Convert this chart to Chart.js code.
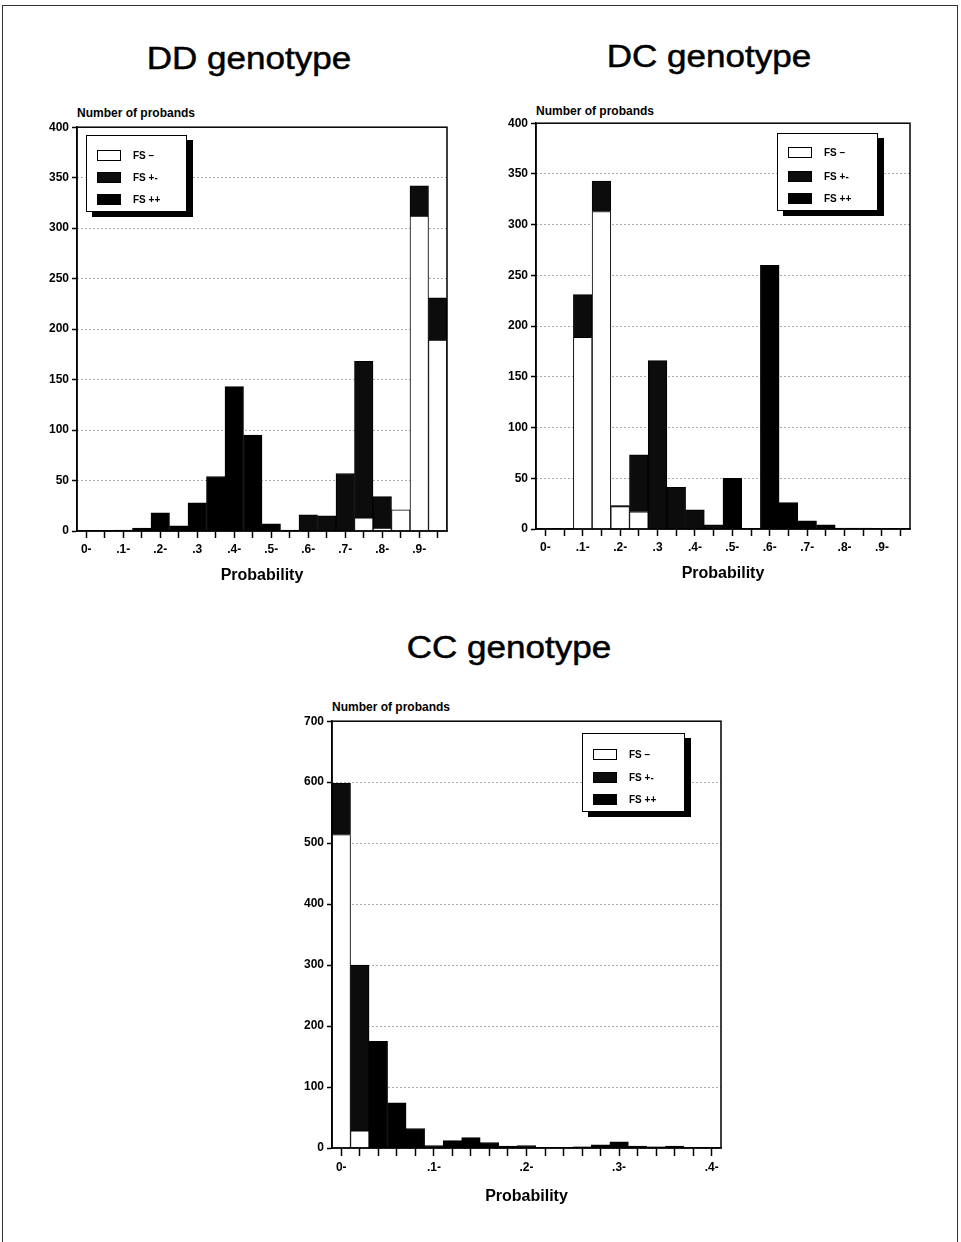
<!DOCTYPE html>
<html><head><meta charset="utf-8">
<script src="https://cdn.jsdelivr.net/npm/chart.js@4.4.1/dist/chart.umd.min.js"></script>
<style>
body{margin:0;background:#fff;width:961px;height:1242px;position:relative;overflow:hidden;font-family:"Liberation Sans",Arial,Helvetica,sans-serif;color:#000;}
.frame{position:absolute;left:2px;top:5px;width:956px;height:1240px;border:1px solid #333;box-sizing:border-box;}
.title{position:absolute;width:400px;text-align:center;font-size:31px;line-height:31px;transform:scaleX(1.13);transform-origin:center;white-space:nowrap;-webkit-text-stroke:0.5px #000;}
.ylab{position:absolute;font-size:12px;line-height:12px;font-weight:bold;white-space:nowrap;}
canvas{position:absolute;}
.legend{position:absolute;border:1px solid #000;background:#fff;box-shadow:6px 5px 0 #000;box-sizing:border-box;}
.row{position:absolute;left:0;height:22px;display:flex;align-items:center;font-size:10px;font-weight:bold;white-space:nowrap;}
.sw{width:24px;height:11px;border:1px solid #000;box-sizing:border-box;margin-left:10px;margin-right:12px;}
</style></head><body>
<div class="frame"></div>
<div class="title" style="left:49px;top:43px;">DD genotype</div>
<div class="title" style="left:509px;top:41px;">DC genotype</div>
<div class="title" style="left:309px;top:632px;">CC genotype</div>
<div class="ylab" style="left:77px;top:107px;">Number of probands</div>
<div class="ylab" style="left:536px;top:105px;">Number of probands</div>
<div class="ylab" style="left:332px;top:701px;">Number of probands</div>
<canvas id="dd"></canvas>
<canvas id="dc"></canvas>
<canvas id="cc"></canvas>
<div class="legend" id="lg-dd" style="left:86px;top:135px;width:101px;height:77px;"></div>
<div class="legend" id="lg-dc" style="left:777px;top:133px;width:101px;height:78px;"></div>
<div class="legend" id="lg-cc" style="left:582px;top:733px;width:103px;height:79px;"></div>
<script>
// ---- data ----
const SERIES = ['FS \u2013', 'FS +-', 'FS ++'];

const DD_BINS = ['0-','.05-','.10-','.15-','.20-','.25-','.30-','.35-','.40-','.45-','.50-','.55-','.60-','.65-','.70-','.75-','.80-','.85-','.90-','.95-'];
const DD_TICKS = ['0-','.1-','.2-','.3','.4-','.5-','.6-','.7-','.8-','.9-'];
const DD_FS_NEG = [0,0,0,0,0,0,0,0,0,0,0,0,0,0,0,13,3,21,312,189];
const DD_FS_PM  = [0,0,0,0,0,0,0,0,0,0,0,0,16,15,57,155,31,0,30,42];
const DD_FS_PP  = [0,0,1,3,18,5,28,54,143,95,7,1,0,0,0,0,0,0,0,0];

const DC_BINS = ['0-','.05-','.10-','.15-','.20-','.25-','.30-','.35-','.40-','.45-','.50-','.55-','.60-','.65-','.70-','.75-','.80-','.85-','.90-','.95-'];
const DC_TICKS = ['0-','.1-','.2-','.3','.4-','.5-','.6-','.7-','.8-','.9-'];
const DC_FS_NEG = [0,0,189,313,22,17,0,0,0,0,0,0,0,0,0,0,0,0,0,0];
const DC_FS_PM  = [0,0,42,30,1,56,166,41,19,4,0,0,0,0,0,0,0,0,0,0];
const DC_FS_PP  = [0,0,0,0,0,0,0,0,0,0,50,0,260,26,8,4,1,1,0,0];

const CC_BINS = ['0-','.02-','.04-','.06-','.08-','.10-','.12-','.14-','.16-','.18-','.20-','.22-','.24-','.26-','.28-','.30-','.32-','.34-','.36-','.38-','.40-'];
const CC_TICKS = ['0-','.1-','.2-','.3-','.4-'];
const CC_FS_NEG = [514,28,0,0,0,0,0,0,0,0,0,0,0,0,0,0,0,0,0,0,0];
const CC_FS_PM  = [84,272,0,0,0,0,0,0,0,0,0,0,0,0,0,0,0,0,0,0,0];
const CC_FS_PP  = [0,0,175,74,32,4,12,17,9,3,4,0,0,2,5,10,3,2,3,1,1];

// ---- styles ----
const FILLS = ['#ffffff', '#0c0c0c', '#000000'];
const FONT = '"Liberation Sans", Arial, Helvetica, sans-serif';

const framePlugin = {
  id: 'frame',
  afterDatasetsDraw(chart) {
    const {ctx, chartArea: a} = chart;
    ctx.save();
    ctx.strokeStyle = '#000';
    ctx.lineWidth = 1.5;
    ctx.strokeRect(a.left, a.top, a.right - a.left, a.bottom - a.top);
    ctx.restore();
  }
};

function makeChart(id, area, xH, tickLen, bins, ticks, every, series, yMax, yStep) {
  const cv = document.getElementById(id);
  const padL = 4, padT = 10, padR = 10, padB = 2, yW = 50;
  const w = (area.r - area.l) + yW + padL + padR;
  const h = (area.b - area.t) + padT + xH + padB;
  cv.width = w; cv.height = h;
  cv.style.left = (area.l - yW - padL) + 'px';
  cv.style.top = (area.t - padT) + 'px';
  cv.style.width = w + 'px'; cv.style.height = h + 'px';
  new Chart(cv, {
    type: 'bar',
    data: {
      labels: bins,
      datasets: series.map((d, i) => ({
        label: SERIES[i], data: d, backgroundColor: FILLS[i], borderColor: '#000',
        borderWidth: 1, barPercentage: 1, categoryPercentage: 1
      }))
    },
    options: {
      responsive: false, animation: false, devicePixelRatio: 1,
      layout: {padding: {left: padL, top: padT, right: padR, bottom: padB}},
      plugins: {legend: {display: false}, tooltip: {enabled: false}, title: {display: false}},
      scales: {
        x: {
          stacked: true,
          grid: {display: true, drawOnChartArea: false, drawTicks: true, tickLength: tickLen, tickColor: '#000', tickWidth: 1.5, offset: false},
          border: {color: '#000', width: 1.5},
          ticks: {autoSkip: false, maxRotation: 0, minRotation: 0, padding: 4, color: '#000',
                  font: {family: FONT, size: 12, weight: 'bold'},
                  callback: (v, i) => (i % every === 0 ? ticks[i / every] : '')},
          title: {display: true, text: 'Probability', color: '#000', font: {family: FONT, size: 16, weight: 'bold'}, padding: {top: 4, bottom: 4}},
          afterFit(s) { s.height = xH; }
        },
        y: {
          stacked: true, min: 0, max: yMax,
          ticks: {stepSize: yStep, color: '#000', padding: 3, font: {family: FONT, size: 12, weight: 'bold'}},
          grid: {color: '#555', lineWidth: 1, tickLength: 5, tickColor: '#000', tickWidth: 1.5},
          border: {color: '#000', width: 1.5, dash: [1, 3]},
          afterFit(s) { s.width = yW; }
        }
      }
    },
    plugins: [framePlugin]
  });
}

function makeLegend(id, rows) {
  const el = document.getElementById(id);
  SERIES.forEach((name, i) => {
    const r = document.createElement('div');
    r.className = 'row';
    r.style.top = rows[i] + 'px';
    const sw = document.createElement('div');
    sw.className = 'sw';
    sw.style.background = FILLS[i];
    const t = document.createElement('span');
    t.textContent = name;
    r.appendChild(sw); r.appendChild(t);
    el.appendChild(r);
  });
}

makeChart('dd', {l: 77, t: 127, r: 447, b: 531}, 58, 7, DD_BINS, DD_TICKS, 2, [DD_FS_NEG, DD_FS_PM, DD_FS_PP], 400, 50);
makeChart('dc', {l: 536, t: 123, r: 910, b: 529}, 58, 7, DC_BINS, DC_TICKS, 2, [DC_FS_NEG, DC_FS_PM, DC_FS_PP], 400, 50);
makeChart('cc', {l: 332, t: 721, r: 721, b: 1148}, 62, 8, CC_BINS, CC_TICKS, 5, [CC_FS_NEG, CC_FS_PM, CC_FS_PP], 700, 100);

makeLegend('lg-dd', [8, 30, 52]);
makeLegend('lg-dc', [7, 31, 53]);
makeLegend('lg-cc', [9, 32, 54]);
</script>
</body></html>
